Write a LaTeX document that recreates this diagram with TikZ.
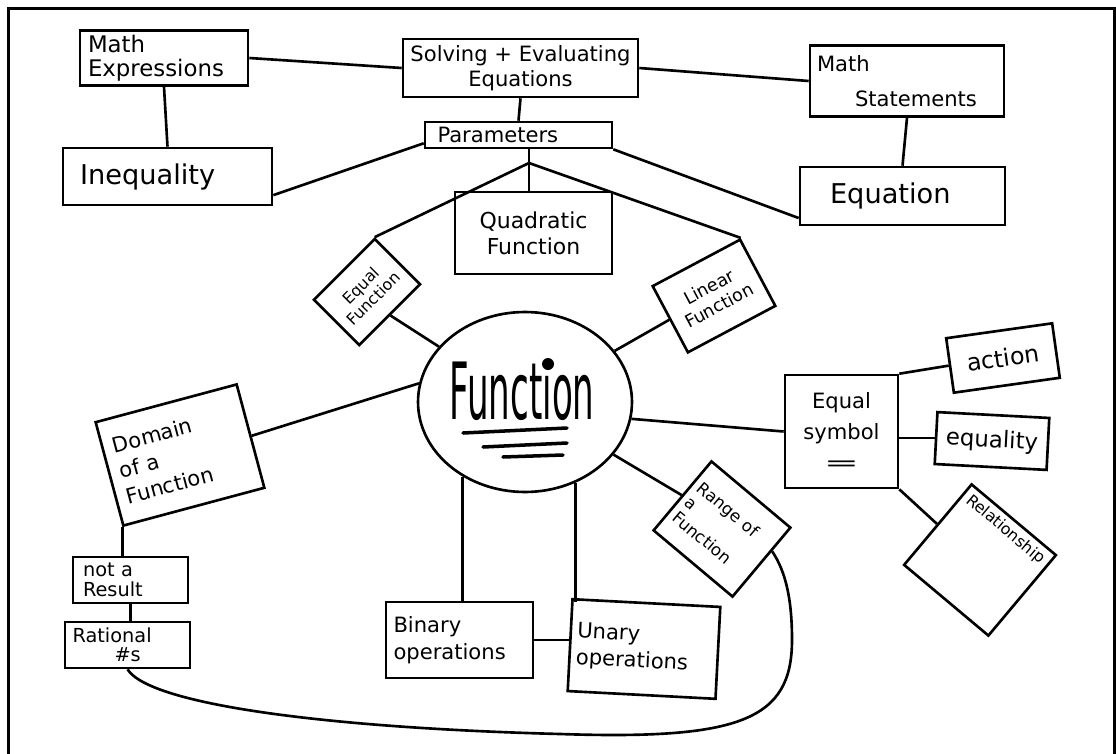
\documentclass[tikz,border=0pt]{standalone}
\usepackage{fontspec}
\setmainfont{DejaVu Sans}
\usepackage{graphicx}
\usetikzlibrary{shapes.geometric}
\newcommand\fsz[2]{\fontsize{#1pt}{#2pt}\selectfont}
\begin{document}
\begin{tikzpicture}[x=0.02cm,y=-0.02cm,
  box/.style={draw, line width=1.5pt, rectangle, inner sep=0pt},
  link/.style={line width=1.5pt},
]
\useasboundingbox (0,0) rectangle (1116,754);
% outer frame (open at the bottom)
\draw[line width=2.2pt] (8.5,754) -- (8.5,8.5) -- (1114.5,8.5) -- (1114.5,754);

% top row
\node[box, minimum width=3.36cm, minimum height=1.10cm, text width=3.04cm, align=left, font=\fsz{13}{14}] (mexp) at (164,58) {Math\\Expressions};
\node[box, minimum width=4.70cm, minimum height=1.16cm, align=center, font=\fsz{12}{14}] (solve) at (520.5,68) {Solving + Evaluating\\Equations};
\node[box, minimum width=3.88cm, minimum height=1.42cm, text width=3.6cm, align=left, font=\fsz{12}{20}] (mstat) at (907,81) {Math\\\hspace*{0.76cm}Statements};
\node[box, minimum width=3.74cm, minimum height=0.52cm, text width=3.24cm, align=left, font=\fsz{12}{14}] (param) at (518.5,135) {Parameters};
\node[box, minimum width=4.18cm, minimum height=1.14cm, text width=3.5cm, align=left, font=\fsz{15.5}{17}] (ineq) at (167.5,176.5) {Inequality};
\node[box, minimum width=4.10cm, minimum height=1.16cm, text width=2.9cm, align=left, font=\fsz{15.5}{17}] (eqn) at (902.5,196) {Equation};

% kinds of functions
\node[box, minimum width=3.14cm, minimum height=1.64cm, align=center, font=\fsz{12.5}{15}] (quad) at (533.5,233) {Quadratic\\Function};
\node[box, rotate=45, minimum width=1.72cm, minimum height=1.28cm, align=center, font=\fsz{9}{10.5}] (eqf) at (367,292) {Equal\\Function};
\node[box, rotate=28, minimum width=1.98cm, minimum height=1.50cm, align=center, font=\fsz{10}{12}] (lin) at (714,296) {Linear\\Function};

% central idea
\node[draw, ellipse, line width=1.5pt, minimum width=4.28cm, minimum height=3.6cm, inner sep=0pt] (fn) at (525,402) {};
\node[inner sep=0pt] (fntxt) at (522,390) {\resizebox{2.9cm}{1.2cm}{Function}};
\fill (548,364) circle[radius=6];
\draw[line width=2pt, line cap=round] (463,433) -- (567,428) (483,447) -- (567,443) (503,457) -- (563,455);

% left branch
\node[box, rotate=15, minimum width=2.92cm, minimum height=2.14cm, text width=2.5cm, align=left, font=\fsz{12}{15}] (dom) at (180,455) {Domain\\of a\\Function};
\node[box, minimum width=2.30cm, minimum height=0.92cm, text width=1.9cm, align=left, font=\fsz{11}{11.5}] (nar) at (130.5,580) {not a\\Result};
\node[box, minimum width=2.50cm, minimum height=0.92cm, text width=2.2cm, align=left, font=\fsz{11}{11}] (rat) at (127.5,645) {Rational\\\hspace*{0.84cm}\#s};

% bottom branch
\node[box, minimum width=2.94cm, minimum height=1.52cm, text width=2.64cm, align=left, font=\fsz{12}{15}] (bin) at (459.5,640) {Binary\\operations};
\node[box, rotate=-3, minimum width=2.96cm, minimum height=1.84cm, text width=2.7cm, align=left, font=\fsz{12}{15}] (un) at (644,649) {Unary\\operations};
\node[box, rotate=-40, minimum width=2.06cm, minimum height=1.80cm, text width=1.8cm, align=left, font=\fsz{9.5}{11}] (rng) at (722,529) {Range of\\a\\Function};

% right branch
\node[box, minimum width=2.26cm, minimum height=2.26cm, align=center, font=\fsz{12}{17.5}] (eqs) at (841.5,431.5) {Equal\\symbol\\\scalebox{2}[1]{=}};
\node[box, rotate=8, minimum width=2.14cm, minimum height=1.10cm, font=\fsz{13.5}{15}] (act) at (1003,358) {action};
\node[box, rotate=-3, minimum width=2.24cm, minimum height=1.04cm, font=\fsz{13}{15}] (eqy) at (992,441) {equality};
\node[box, rotate=-40, minimum width=2.2cm, text height=0.25cm, text depth=1.65cm, inner xsep=0.1cm, inner ysep=0.1cm, font=\fsz{9}{10}] (rel) at (980,560) {Relationship};

% connectors
\coordinate (br) at (529,163);
\draw[link] (mexp.east) -- (solve.west);
\draw[link] (solve.east) -- (mstat.west);
\draw[link] (solve.south) -- (param.north);
\draw[link] (mexp.south) -- (ineq.north);
\draw[link] (mstat.south) -- (eqn.north);
\draw[link] (param.185) -- (ineq.-10);
\draw[link] (param.south east) -- (eqn.192);
\draw[link] (br |- param.south) -- (br |- quad.north);
\draw[link] (br) -- (eqf.north east);
\draw[link] (br) -- (lin.north east);
\draw[link] (eqf.south) -- (fn);
\draw[link] (lin.west) -- (fn);
\draw[link] (dom.east) -- (fn.170);
\draw[link] (dom.south west) -- (dom.south west |- nar.north);
\draw[link] (nar.south) -- (nar.south |- rat.north);
\draw[link] (rat.south) .. controls (150,705) and (330,728) .. (560,734)
  .. controls (740,740) and (792,720) .. (792,640)
  .. controls (792,600) and (786,572) .. (rng.16);
\draw[link] (fn.-130) -- (fn.-130 |- bin.north);
\draw[link] (fn.-58) -- (fn.-58 |- un.north);
\draw[link] (bin.east) -- (bin.east -| un.west);
\draw[link] (rng.west) -- (fn);
\draw[link] (fn.-9) -- (eqs.west);
\draw[link] (eqs.north east) -- (act.west);
\draw[link] (eqy.west) -- (eqy.west -| eqs.east);
\draw[link] (eqs.south east) -- (rel.west);
\end{tikzpicture}
\end{document}
